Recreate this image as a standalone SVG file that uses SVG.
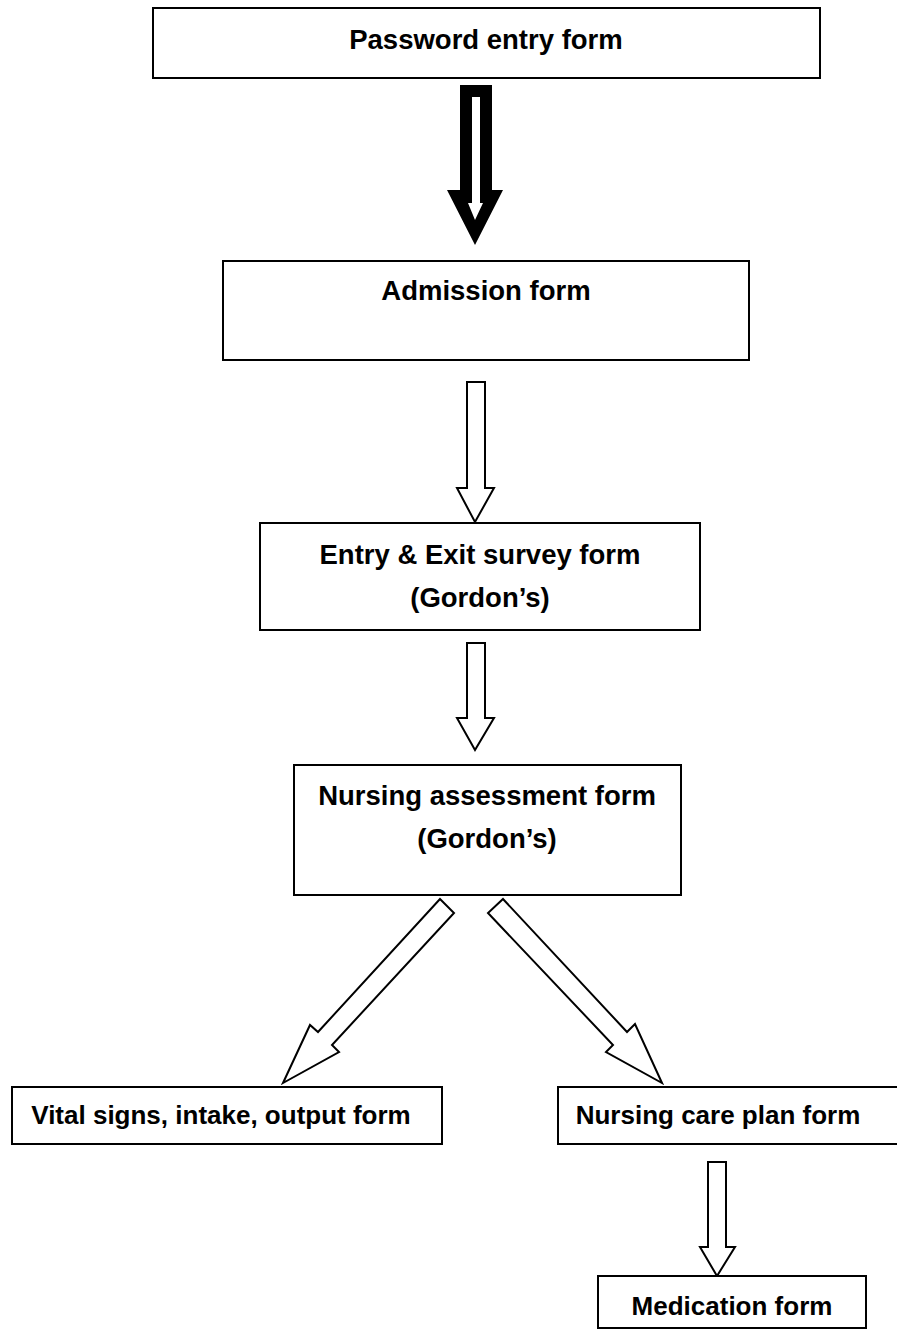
<svg xmlns="http://www.w3.org/2000/svg" width="897" height="1330" viewBox="0 0 897 1330">
<style>
.box{fill:#fff;stroke:#000;stroke-width:2}
.t{font-family:"Liberation Sans",Arial,sans-serif;font-weight:bold;fill:#000;text-anchor:middle}
.big{font-size:27.5px}
.sm{font-size:26px}
.arr{fill:#fff;stroke:#000;stroke-width:2;stroke-linejoin:miter}
</style>
<rect width="897" height="1330" fill="#fff"/>
<g id="connectors">
<polygon points="460,85 492,85 492,190 503,190 475,245 447,190 460,190" fill="#000"/>
<polygon points="472,97 480,97 480,203 483,203 475,220 468,203 472,203" fill="#fff"/>
<polygon class="arr" points="467,382 485,382 485,488 494,488 475,522 457,488 467,488"/>
<polygon class="arr" points="467,643 485,643 485,718 494,718 475,750 457,718 467,718"/>
<polygon class="arr" points="440,899 454,913 332,1045 339,1052 283,1083 310,1025 318,1032"/>
<polygon class="arr" points="503,899 627,1032 635,1024 662,1083 606,1052 613,1045 488,913"/>
<polygon class="arr" points="708,1162 726,1162 726,1247 735,1247 717,1276 700,1247 708,1247"/>
</g>
<g id="password">
<rect class="box" x="153" y="8" width="667" height="70"/>
<text class="t big" x="486" y="49">Password entry form</text>
</g>
<g id="admission">
<rect class="box" x="223" y="261" width="526" height="99"/>
<text class="t big" x="486" y="300">Admission form</text>
</g>
<g id="entryexit">
<rect class="box" x="260" y="523" width="440" height="107"/>
<text class="t big" x="480" y="564">Entry &amp; Exit survey form</text>
<text class="t big" x="480" y="607">(Gordon’s)</text>
</g>
<g id="assessment">
<rect class="box" x="294" y="765" width="387" height="130"/>
<text class="t big" x="487" y="805">Nursing assessment form</text>
<text class="t big" x="487" y="848">(Gordon’s)</text>
</g>
<g id="vitals">
<rect class="box" x="12" y="1087" width="430" height="57"/>
<text class="t sm" x="221" y="1124">Vital signs, intake, output form</text>
</g>
<g id="careplan">
<rect class="box" x="558" y="1087" width="345" height="57"/>
<text class="t sm" x="718" y="1124">Nursing care plan form</text>
</g>
<g id="medication">
<rect class="box" x="598" y="1276" width="268" height="52"/>
<text class="t sm" x="732" y="1315">Medication form</text>
</g>
</svg>
